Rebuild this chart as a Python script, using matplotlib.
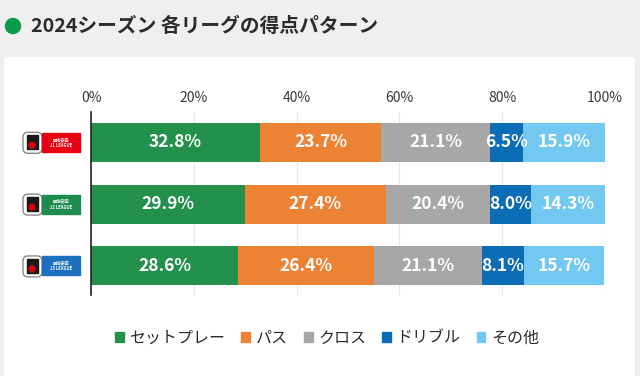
import matplotlib.pyplot as plt
from matplotlib.patches import FancyBboxPatch, Circle, Rectangle, Patch

plt.rcParams['font.family'] = ['Noto Sans CJK JP', 'DejaVu Sans']

# リーグ
leagues = ['J1', 'J2', 'J3']
badge_colors = ['#e60012', '#1e8c4e', '#1d6fbf']

# 得点パターン（%）
categories = ['セットプレー', 'パス', 'クロス', 'ドリブル', 'その他']
colors = ['#23904b', '#ec8234', '#a7a7a7', '#0b6db6', '#72c8f0']
setplay = [32.8, 29.9, 28.6]
passes = [23.7, 27.4, 26.4]
cross = [21.1, 20.4, 21.1]
dribble = [6.5, 8.0, 8.1]
other = [15.9, 14.3, 15.7]
series = [setplay, passes, cross, dribble, other]

ticks = [0, 20, 40, 60, 80, 100]

fig = plt.figure(figsize=(6.4, 3.76), dpi=100)
fig.patch.set_facecolor('#efefef')

# 背景・タイトル用の全面axes（ピクセル座標）
bg = fig.add_axes([0, 0, 1, 1])
bg.set_xlim(0, 640)
bg.set_ylim(376, 0)
bg.axis('off')
bg.add_patch(FancyBboxPatch((4, 57), 631, 330, boxstyle='round,pad=0,rounding_size=4',
                            fc='white', ec='none'))
bg.add_patch(Circle((13, 26), 7.5, color='#0b9a48'))
bg.text(31, 26, '2024シーズン 各リーグの得点パターン', fontsize=14.2, fontweight='bold',
        color='#2b2b2b', va='center', ha='left')

# メインのグラフ
ax = fig.add_axes([91 / 640, 1 - 295 / 376, 514 / 640, (295 - 112) / 376])
ax.patch.set_alpha(0)

y = list(range(len(leagues)))
left = [0.0] * len(leagues)
for name, vals, c in zip(categories, series, colors):
    ax.barh(y, vals, left=left, height=0.63, color=c, zorder=2)
    for i, v in enumerate(vals):
        ax.text(left[i] + v / 2, i, f'{v:.1f}%', ha='center', va='center',
                color='white', fontsize=12.5, fontweight='bold', zorder=3)
    left = [l + v for l, v in zip(left, vals)]

ax.set_xlim(0, 100)
ax.set_ylim(2.47, -0.49)
ax.set_xticks(ticks)
ax.set_xticklabels([f'{t}%' for t in ticks], fontsize=10, color='#3a3a3a')
ax.xaxis.tick_top()
ax.tick_params(axis='x', length=0, pad=5)
ax.set_yticks([])
ax.grid(axis='x', color='#e8e8e8', lw=0.9, zorder=0)
for s in ['top', 'right', 'bottom']:
    ax.spines[s].set_visible(False)
ax.spines['left'].set_color('#222222')
ax.spines['left'].set_linewidth(1.2)

# リーグロゴ（簡略化）
fig.canvas.draw()
for i, (lg, bc) in enumerate(zip(leagues, badge_colors)):
    disp = ax.transData.transform((0, i))
    _, cy = bg.transData.inverted().transform(disp)
    bg.add_patch(FancyBboxPatch((23, cy - 10), 19, 21, boxstyle='round,pad=0,rounding_size=5',
                                fc='white', ec='#8a8a8a', lw=1.0))
    bg.add_patch(Rectangle((27, cy - 7), 11, 14, color='#1a1a1a'))
    bg.add_patch(Circle((32, cy + 3), 3, color='#d7000f'))
    bg.add_patch(Rectangle((42, cy - 9.5), 38, 19, color=bc))
    bg.text(61, cy, f'明治安田\n{lg} LEAGUE', fontsize=3, color='white', ha='center',
            va='center', fontweight='bold', linespacing=1.2)

# 凡例
handles = [Patch(color=c) for c in colors]
fig.legend(handles, categories, loc='center', bbox_to_anchor=(327 / 640, 1 - 338 / 376),
           ncol=5, frameon=False, fontsize=11.5, handlelength=0.55, handleheight=0.55,
           handletextpad=0.35, columnspacing=1.0, labelcolor='#2a2a2a')

fig.savefig('out.png', dpi=100, facecolor=fig.get_facecolor())
